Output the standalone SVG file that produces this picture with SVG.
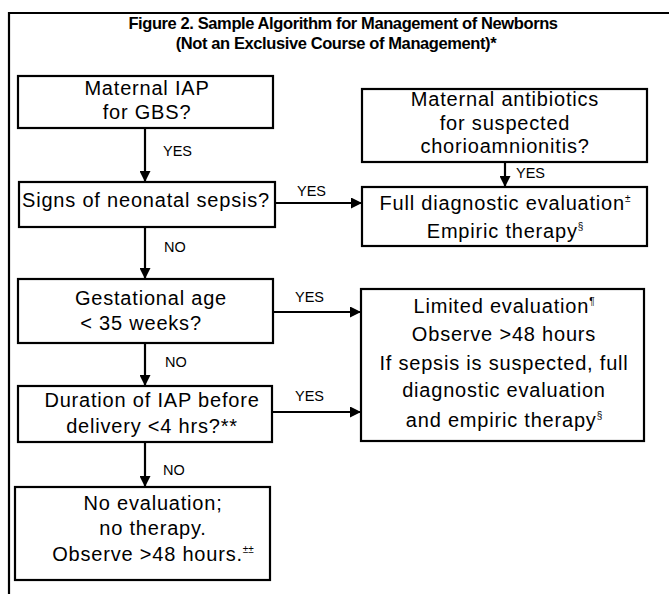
<svg xmlns="http://www.w3.org/2000/svg" width="669" height="595" viewBox="0 0 669 595">
<style>
text{font-family:"Liberation Sans",Arial,Helvetica,sans-serif;fill:#000}
.t{font-size:16.5px;font-weight:bold;text-anchor:middle;letter-spacing:-0.4px}
.n{font-size:20px;text-anchor:middle;letter-spacing:0.8px}
.l{font-size:14.5px}
.s{font-size:10px;letter-spacing:0}
.box{fill:#fff;stroke:#000;stroke-width:2.2}
.c{stroke:#000;stroke-width:2.2;fill:none}
</style>
<defs>
<marker id="ah" viewBox="0 0 10 10" refX="10" refY="5" markerWidth="5" markerHeight="5" markerUnits="strokeWidth" orient="auto">
<path d="M0,0 L10,5 L0,10 z" fill="#000"/>
</marker>
</defs>
<rect width="669" height="595" fill="#fff"/>
<g id="frame">
<line x1="8" y1="13" x2="669" y2="13" class="c"/>
<line x1="9" y1="12" x2="9" y2="594" class="c"/>
</g>
<g id="title">
<text class="t" x="343" y="29">Figure 2.  Sample Algorithm for Management of Newborns</text>
<text class="t" x="336" y="49">(Not an Exclusive Course of Management)*</text>
</g>
<g id="connectors">
<line x1="145" y1="128" x2="145" y2="182" class="c" marker-end="url(#ah)"/>
<line x1="145" y1="227" x2="145" y2="279" class="c" marker-end="url(#ah)"/>
<line x1="145" y1="343" x2="145" y2="386" class="c" marker-end="url(#ah)"/>
<line x1="145" y1="442" x2="145" y2="487" class="c" marker-end="url(#ah)"/>
<line x1="275" y1="203" x2="362" y2="203" class="c" marker-end="url(#ah)"/>
<line x1="505" y1="162" x2="505" y2="187" class="c" marker-end="url(#ah)"/>
<line x1="273" y1="312" x2="361" y2="312" class="c" marker-end="url(#ah)"/>
<line x1="272" y1="412" x2="361" y2="412" class="c" marker-end="url(#ah)"/>
<text class="l" x="163" y="156">YES</text>
<text class="l" x="297" y="196">YES</text>
<text class="l" x="516" y="178">YES</text>
<text class="l" x="164" y="252">NO</text>
<text class="l" x="295" y="302">YES</text>
<text class="l" x="165" y="367">NO</text>
<text class="l" x="295" y="401">YES</text>
<text class="l" x="163" y="475">NO</text>
</g>
<g id="n-iap">
<rect class="box" x="18" y="76" width="255" height="52"/>
<text class="n" x="147" y="95">Maternal IAP</text>
<text class="n" x="147" y="119">for GBS?</text>
</g>
<g id="n-sepsis">
<rect class="box" x="19" y="182" width="256" height="45"/>
<text class="n" x="146" y="207">Signs of neonatal sepsis?</text>
</g>
<g id="n-antibiotics">
<rect class="box" x="362" y="89" width="285" height="73"/>
<text class="n" x="505" y="106">Maternal antibiotics</text>
<text class="n" x="505" y="130">for suspected</text>
<text class="n" x="505" y="153">chorioamnionitis?</text>
</g>
<g id="n-full">
<rect class="box" x="362" y="187" width="285" height="59"/>
<text class="n" x="505" y="210">Full diagnostic evaluation<tspan class="s" dy="-8">±</tspan></text>
<text class="n" x="505" y="238">Empiric therapy<tspan class="s" dy="-8">§</tspan></text>
</g>
<g id="n-gestational">
<rect class="box" x="18" y="279" width="255" height="64"/>
<text class="n" x="151" y="305">Gestational age</text>
<text class="n" x="141" y="330">&lt; 35 weeks?</text>
</g>
<g id="n-duration">
<rect class="box" x="18" y="386" width="254" height="56"/>
<text class="n" x="152" y="407">Duration of IAP before</text>
<text class="n" x="152" y="433">delivery &lt;4 hrs?**</text>
</g>
<g id="n-limited">
<rect class="box" x="361" y="289" width="283" height="152"/>
<text class="n" x="504" y="313">Limited evaluation<tspan class="s" dy="-8">¶</tspan></text>
<text class="n" x="504" y="341">Observe  &gt;48 hours</text>
<text class="n" x="504" y="370">If sepsis is suspected, full</text>
<text class="n" x="504" y="397">diagnostic evaluation</text>
<text class="n" x="504" y="427">and empiric therapy<tspan class="s" dy="-8">§</tspan></text>
</g>
<g id="n-noeval">
<rect class="box" x="15" y="487" width="255" height="93"/>
<text class="n" x="153" y="510">No evaluation;</text>
<text class="n" x="153" y="535">no therapy.</text>
<text class="n" x="153" y="561">Observe &gt;48 hours.<tspan class="s" dy="-8">±±</tspan></text>
</g>
</svg>
